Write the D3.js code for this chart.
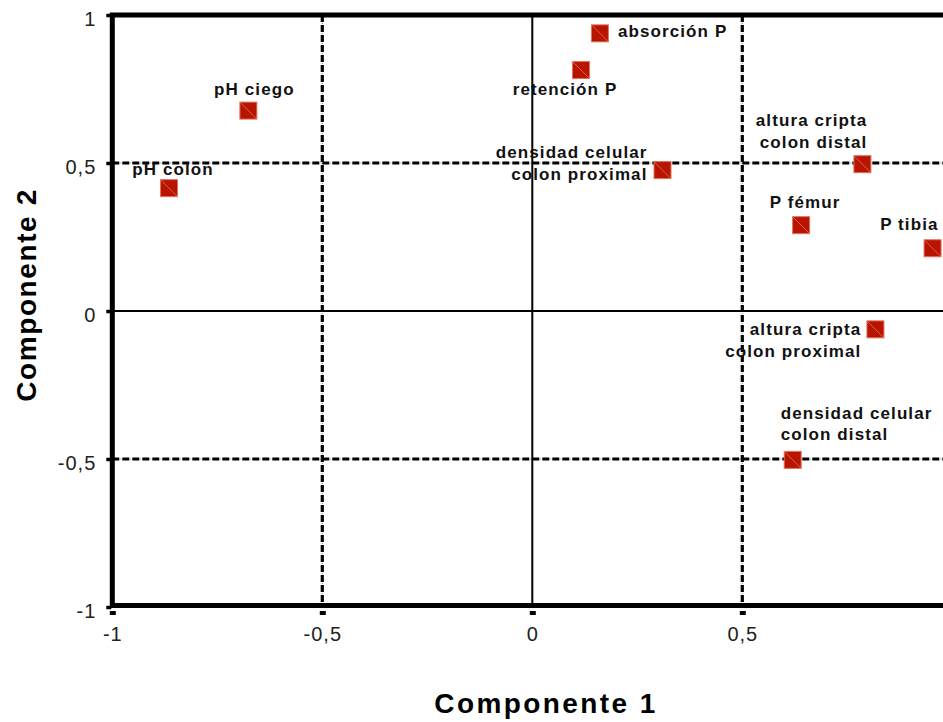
<!DOCTYPE html>
<html>
<head>
<meta charset="utf-8">
<script src="https://cdn.jsdelivr.net/npm/d3@7"></script>
<style>
  html, body { margin: 0; padding: 0; background: #fff; }
  svg { display: block; }
</style>
</head>
<body>
<script>
// Component loadings of each variable (component 1, component 2)
const variables = [
  "absorción P",
  "retención P",
  "densidad celular\ncolon proximal",
  "pH ciego",
  "pH colon",
  "altura cripta\ncolon distal",
  "P fémur",
  "P tibia",
  "altura cripta\ncolon proximal",
  "densidad celular\ncolon distal"
];
const comp1 = [0.161, 0.116, 0.310, -0.676, -0.865, 0.786, 0.640, 0.953, 0.817, 0.620];
const comp2 = [0.938, 0.814, 0.476, 0.677, 0.415, 0.496, 0.290, 0.212, -0.062, -0.503];

const xTicks = [-1, -0.5, 0, 0.5, 1];
const yTicks = [-1, -0.5, 0, 0.5, 1];
const tickText = v => String(v).replace(".", ",");

// Label placement around each marker: text anchor, offset, line step
const labelPlacement = [
  { anchor: "start",  dx: 18,  dy: 4,   step: 22 },
  { anchor: "middle", dx: -16, dy: 25,  step: 22 },
  { anchor: "end",    dx: -15, dy: -12, step: 22 },
  { anchor: "middle", dx: 6,   dy: -16, step: 22 },
  { anchor: "middle", dx: 4,   dy: -13, step: 22 },
  { anchor: "end",    dx: 5,   dy: -38, step: 22 },
  { anchor: "middle", dx: 4,   dy: -17, step: 22 },
  { anchor: "end",    dx: 6,   dy: -18, step: 22 },
  { anchor: "end",    dx: -14, dy: 6,   step: 22 },
  { anchor: "start",  dx: -12, dy: -41, step: 21 }
];

const W = 943, H = 722;
const svg = d3.select("body").append("svg").attr("width", W).attr("height", H);

const x = d3.scaleLinear().domain([-1, 1]).range([112.3, 952.3]);
const y = d3.scaleLinear().domain([-1, 1]).range([607, 15]);

const font = "'Liberation Sans', Arial, Helvetica, sans-serif";

// Dashed reference lines at ±0.5
const refs = svg.append("g");
function dashed(x1, y1, x2, y2) {
  refs.append("line").attr("x1", x1).attr("y1", y1).attr("x2", x2).attr("y2", y2)
    .attr("stroke", "#000").attr("stroke-width", 3.2).attr("stroke-dasharray", "7,3");
  refs.append("line").attr("x1", x1).attr("y1", y1).attr("x2", x2).attr("y2", y2)
    .attr("stroke", "#888").attr("stroke-width", 1).attr("stroke-dasharray", "1,9")
    .attr("stroke-dashoffset", -8);
}
[-0.5, 0.5].forEach(v => {
  dashed(x(v), y(1), x(v), y(-1));
  dashed(x(-1), y(v), x(1), y(v));
});

// Zero lines
svg.append("line").attr("x1", x(0)).attr("x2", x(0)).attr("y1", y(1)).attr("y2", y(-1))
  .attr("stroke", "#000").attr("stroke-width", 2);
svg.append("line").attr("x1", x(-1)).attr("x2", x(1)).attr("y1", y(0)).attr("y2", y(0))
  .attr("stroke", "#000").attr("stroke-width", 2);

// Frame
svg.append("path")
  .attr("d", `M${x(1)},${y(1)}H${x(-1)}V${y(-1) - 1.5}H${x(1)}`)
  .attr("fill", "none").attr("stroke", "#000").attr("stroke-width", 5);

// Axes
const xAxis = svg.append("g").attr("transform", `translate(0,${y(-1)})`)
  .call(d3.axisBottom(x).tickValues(xTicks).tickFormat(tickText).tickSize(8).tickPadding(11.5));
const yAxis = svg.append("g").attr("transform", `translate(${x(-1)},0)`)
  .call(d3.axisLeft(y).tickValues(yTicks).tickFormat(tickText).tickSize(6).tickPadding(10));
[xAxis, yAxis].forEach(g => {
  g.select(".domain").remove();
  g.selectAll(".tick text").attr("fill", "#222").style("font-family", font)
    .style("font-size", "20px").style("letter-spacing", "1px");
});
xAxis.selectAll(".tick line").attr("y1", 4).attr("stroke", "#000").attr("stroke-width", 6);
yAxis.selectAll(".tick line").attr("x1", -1).attr("stroke", "#000").attr("stroke-width", 3.5);
yAxis.selectAll(".tick text").attr("dy", "0.5em");

// Markers
const pts = svg.append("g").selectAll("g").data(variables).join("g")
  .attr("transform", (d, i) => `translate(${x(comp1[i])},${y(comp2[i])})`);
pts.append("rect").attr("x", -8.5).attr("y", -8.5).attr("width", 17).attr("height", 17)
  .attr("fill", "#b81400").attr("stroke", "#e2735f").attr("stroke-width", 1);
pts.append("line").attr("x1", -8).attr("y1", -8).attr("x2", 8).attr("y2", 8)
  .attr("stroke", "#e2735f").attr("stroke-width", 0.8);

// Labels
pts.append("text")
  .attr("text-anchor", (d, i) => labelPlacement[i].anchor)
  .attr("fill", "#111")
  .style("font-family", font).style("font-weight", "bold")
  .style("font-size", "17px").style("letter-spacing", "1.1px")
  .each(function (d, i) {
    const p = labelPlacement[i];
    d.split("\n").forEach((line, k) => {
      d3.select(this).append("tspan").attr("x", p.dx).attr("y", p.dy + k * p.step).text(line);
    });
  });

// Axis titles
svg.append("text").attr("x", 546).attr("y", 713).attr("text-anchor", "middle")
  .attr("fill", "#000").style("font-family", font).style("font-weight", "bold")
  .style("font-size", "28px").style("letter-spacing", "2.4px").text("Componente 1");
svg.append("text").attr("transform", "translate(36,295) rotate(-90)").attr("text-anchor", "middle")
  .attr("fill", "#000").style("font-family", font).style("font-weight", "bold")
  .style("font-size", "28px").style("letter-spacing", "1.6px").text("Componente 2");
</script>
</body>
</html>
